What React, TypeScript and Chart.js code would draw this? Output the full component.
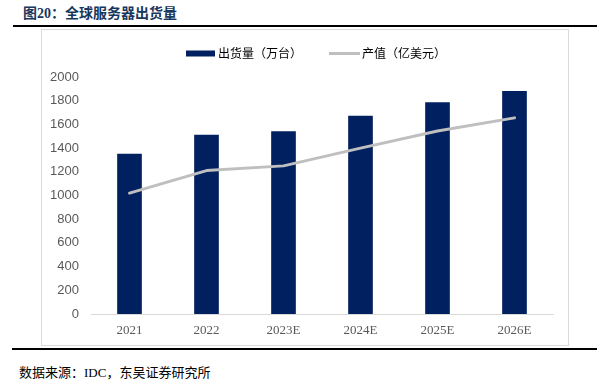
import React, { useEffect, useRef } from 'react';
import { Chart, registerables } from 'chart.js';

Chart.register(...registerables);

const categories = ['2021', '2022', '2023E', '2024E', '2025E', '2026E'];
const shipments = [1350, 1510, 1540, 1670, 1785, 1880];
const outputValue = [1020, 1210, 1250, 1400, 1545, 1655];
const yTicks = [0, 200, 400, 600, 800, 1000, 1200, 1400, 1600, 1800, 2000];
const seriesNames = ['出货量（万台）', '产值（亿美元）'];

const BAR_COLOR = '#002060';
const LINE_COLOR = '#bfbfbf';

export default function App() {
  const ref = useRef<HTMLCanvasElement>(null);

  useEffect(() => {
    if (!ref.current) return;
    const legendPlugin = {
      id: 'customLegend',
      afterDraw(chart: any) {
        const ctx = chart.ctx;
        ctx.save();
        ctx.font = "12px 'Noto Sans CJK SC'";
        ctx.textBaseline = 'middle';
        ctx.textAlign = 'left';
        const y = 23.5;
        let x = 144;
        ctx.fillStyle = BAR_COLOR;
        ctx.fillRect(x, y - 3, 29, 6);
        x += 32;
        ctx.fillStyle = '#000';
        ctx.fillText(seriesNames[0], x, y);
        x += ctx.measureText(seriesNames[0]).width + 27;
        ctx.strokeStyle = LINE_COLOR;
        ctx.lineWidth = 3;
        ctx.beginPath();
        ctx.moveTo(x, y);
        ctx.lineTo(x + 31, y);
        ctx.stroke();
        x += 33;
        ctx.fillStyle = '#000';
        ctx.fillText(seriesNames[1], x, y);
        ctx.restore();
      },
    };

    const chart = new Chart(ref.current, {
      type: 'bar',
      data: {
        labels: categories,
        datasets: [
          {
            type: 'bar',
            label: seriesNames[0],
            data: shipments,
            backgroundColor: BAR_COLOR,
            barThickness: 24,
            order: 1,
          },
          {
            type: 'line',
            label: seriesNames[1],
            data: outputValue,
            borderColor: LINE_COLOR,
            backgroundColor: LINE_COLOR,
            borderWidth: 3,
            pointRadius: 0,
            tension: 0,
            borderJoinStyle: 'round',
            borderCapStyle: 'round',
            order: 0,
          },
        ],
      } as any,
      options: {
        responsive: false,
        animation: false,
        devicePixelRatio: 1,
        layout: { padding: { top: 47, right: 15, bottom: 6, left: 0 } },
        plugins: {
          legend: { display: false },
          tooltip: { enabled: false },
          title: { display: false },
        },
        scales: {
          x: {
            grid: { display: false, drawTicks: false },
            border: { display: true, color: '#d9d9d9', width: 1 },
            afterFit(scale: any) {
              scale.height = 25;
            },
            ticks: {
              padding: 9,
              color: '#595959',
              font: { family: "'Liberation Serif', 'Times New Roman', serif", size: 13 },
            },
          },
          y: {
            min: 0,
            max: 2000,
            grid: { display: false, drawTicks: false },
            border: { display: false },
            afterFit(scale: any) {
              scale.width = 49;
            },
            afterBuildTicks(scale: any) {
              scale.ticks = yTicks.map((v) => ({ value: v }));
            },
            ticks: {
              padding: 12,
              color: '#595959',
              font: { family: "'Liberation Sans', Arial, sans-serif", size: 13 },
              callback: (v: any) => String(v),
            },
          },
        },
      } as any,
      plugins: [legendPlugin],
    });
    return () => chart.destroy();
  }, []);

  const serifCjk = "'Liberation Serif', 'Noto Sans CJK SC', serif";

  return (
    <div style={{ position: 'absolute', left: 0, top: 0, width: 607, height: 385, background: '#fff', overflow: 'hidden' }}>
      <div
        style={{
          position: 'absolute',
          left: 23,
          top: 6,
          lineHeight: '16px',
          fontSize: 14,
          fontWeight: 'bold',
          fontFamily: serifCjk,
          color: '#17375e',
          whiteSpace: 'nowrap',
        }}
      >
        图20：全球服务器出货量
      </div>
      <div style={{ position: 'absolute', left: 13, top: 25, width: 584, height: 2, background: '#000' }} />
      <div
        style={{
          position: 'absolute',
          left: 41,
          top: 29,
          width: 528,
          height: 317,
          border: '1px solid #d9d9d9',
          boxSizing: 'border-box',
        }}
      >
        <canvas ref={ref} width={526} height={315} style={{ display: 'block', width: 526, height: 315 }} />
      </div>
      <div style={{ position: 'absolute', left: 12, top: 348, width: 585, height: 2, background: '#000' }} />
      <div
        style={{
          position: 'absolute',
          left: 19,
          top: 365,
          lineHeight: '16px',
          fontSize: 13,
          fontFamily: serifCjk,
          color: '#000',
          whiteSpace: 'nowrap',
        }}
      >
        数据来源：IDC，东吴证券研究所
      </div>
    </div>
  );
}
